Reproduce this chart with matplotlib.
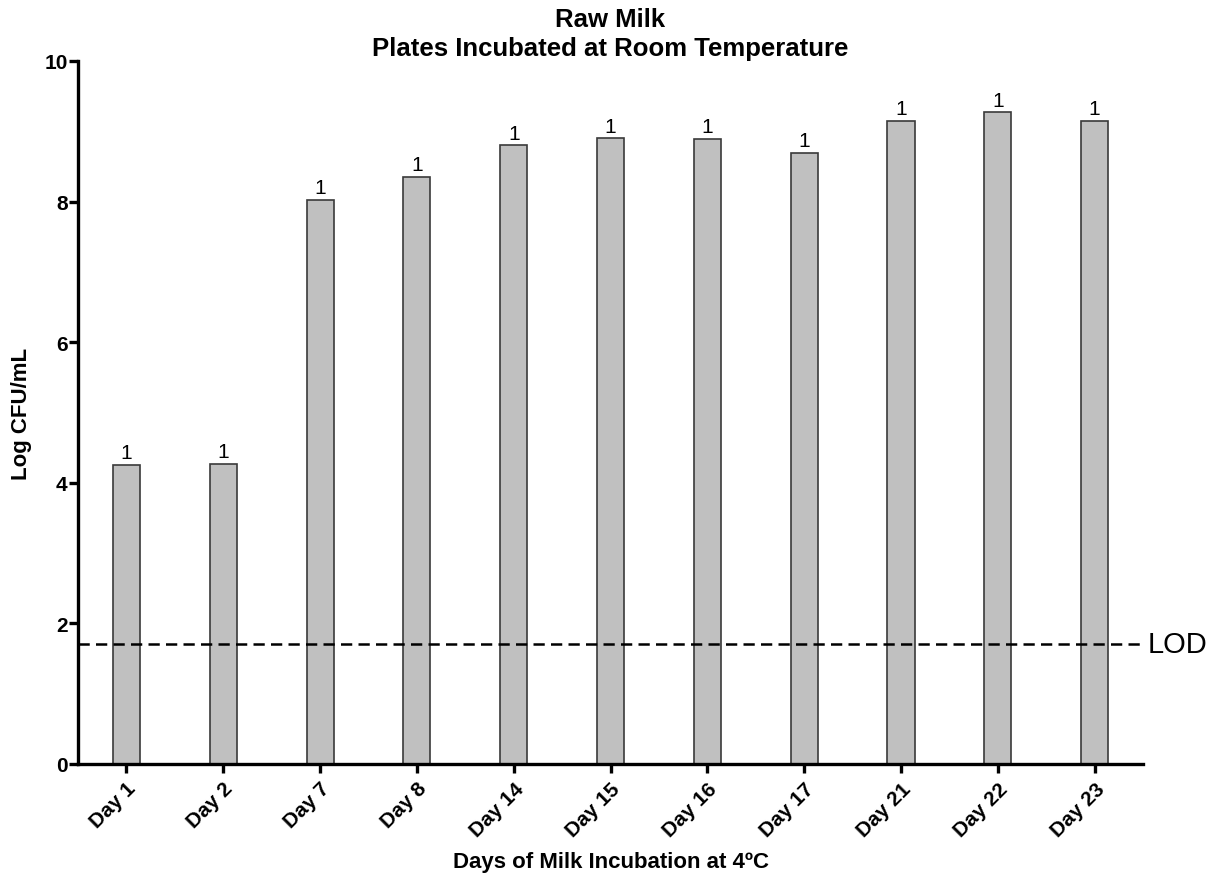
import matplotlib
matplotlib.use("Agg")
import matplotlib.pyplot as plt
from matplotlib.transforms import ScaledTranslation

plt.rcParams['font.family'] = ['Liberation Sans', 'DejaVu Sans']

days = ["Day 1", "Day 2", "Day 7", "Day 8", "Day 14", "Day 15", "Day 16",
        "Day 17", "Day 21", "Day 22", "Day 23"]
log_cfu = [4.25, 4.27, 8.02, 8.35, 8.80, 8.90, 8.89, 8.69, 9.15, 9.27, 9.15]
n_counts = [1, 1, 1, 1, 1, 1, 1, 1, 1, 1, 1]
lod = 1.7

fig = plt.figure(figsize=(12.19, 8.79), dpi=100)
ax = fig.add_axes([0.064, 0.1297, 0.8737, 0.7998])

x = list(range(len(days)))
ax.bar(x, log_cfu, width=0.28, color="#c0c0c0", edgecolor="#3a3a3a",
       linewidth=1.2, zorder=2)
for xi, yi, n in zip(x, log_cfu, n_counts):
    ax.annotate(str(n), (xi, yi), xytext=(0, 2), textcoords="offset points",
                ha="center", va="bottom", fontsize=15)

ax.axhline(lod, color="black", linestyle=(0, (4.5, 2.5)), linewidth=1.8,
           zorder=3, clip_on=False)
ax.text(1.004, lod, "LOD", transform=ax.get_yaxis_transform(),
        ha="left", va="center", fontsize=21)

ax.set_xlim(-0.5, 10.5)
ax.set_ylim(0, 10)
ax.set_yticks([0, 2, 4, 6, 8, 10])
ax.set_xticks(x)
ax.set_xticklabels(days, rotation=45, ha="right", rotation_mode="anchor",
                   fontsize=15, fontweight="bold")
shift = ScaledTranslation(-4 / 72, 0, fig.dpi_scale_trans)
for lbl in ax.get_xticklabels():
    lbl.set_transform(lbl.get_transform() + shift)
for lbl in ax.get_yticklabels():
    lbl.set_fontsize(15)
    lbl.set_fontweight("bold")

for side in ("top", "right"):
    ax.spines[side].set_visible(False)
for side in ("left", "bottom"):
    ax.spines[side].set_linewidth(2.4)
ax.tick_params(axis="y", width=2.4, length=6.5, pad=1)
ax.tick_params(axis="x", width=2.4, length=6.5, pad=4)

ax.set_ylabel("Log CFU/mL", fontsize=16, fontweight="bold", labelpad=9)
ax.set_xlabel("Days of Milk Incubation at 4ºC", fontsize=16,
              fontweight="bold", labelpad=8)
ax.set_title("Raw Milk\nPlates Incubated at Room Temperature", fontsize=18.5,
             fontweight="bold", pad=4, linespacing=1.3)

fig.savefig("out.png", dpi=100)
